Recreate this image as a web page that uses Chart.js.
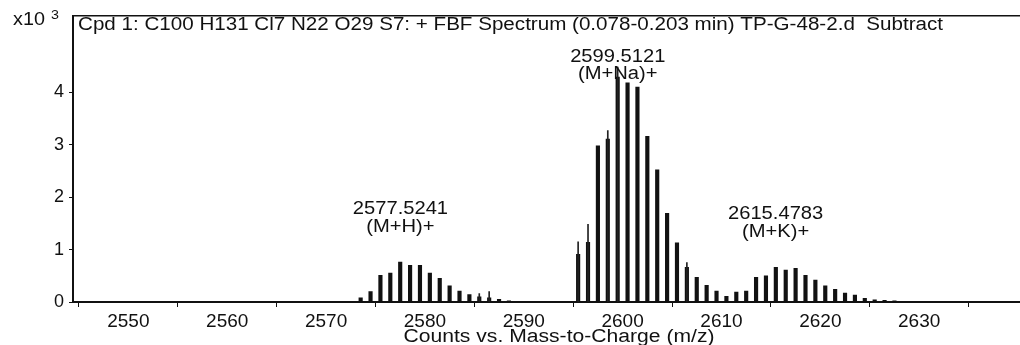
<!DOCTYPE html>
<html>
<head>
<meta charset="utf-8">
<script src="https://cdn.jsdelivr.net/npm/chart.js@4.4.1/dist/chart.umd.min.js"></script>
<style>
  html, body { margin: 0; padding: 0; background: #fff; }
  #wrap { width: 1020px; height: 345px; }
</style>
</head>
<body>
<div id="wrap"><canvas id="msChart" width="1020" height="345"></canvas></div>
<script>
// isotope peaks, m/z and counts (x10^3)
const mz = [
  2573.5, 2574.5, 2575.5, 2576.5, 2577.5, 2578.5, 2579.5, 2580.5, 2581.5, 2582.5,
  2583.5, 2584.5, 2585.5, 2586.5, 2587.5, 2588.5,
  2595.5, 2596.5, 2597.5, 2598.5, 2599.5, 2600.5, 2601.5, 2602.5, 2603.5, 2604.5,
  2605.5, 2606.5, 2607.5, 2608.5, 2609.5, 2610.5, 2611.5, 2612.5, 2613.5, 2614.5,
  2615.5, 2616.5, 2617.5, 2618.5, 2619.5, 2620.5, 2621.5, 2622.5, 2623.5, 2624.5,
  2625.5, 2626.5, 2627.5
];
const counts = [
  0.08, 0.20, 0.51, 0.55, 0.76, 0.70, 0.70, 0.55, 0.45, 0.31,
  0.21, 0.14, 0.10, 0.08, 0.05, 0.02,
  0.91, 1.14, 2.98, 3.11, 4.29, 4.18, 4.10, 3.16, 2.52, 1.69,
  1.13, 0.66, 0.47, 0.32, 0.21, 0.11, 0.19, 0.21, 0.47, 0.50,
  0.66, 0.61, 0.64, 0.51, 0.42, 0.31, 0.24, 0.17, 0.13, 0.07,
  0.04, 0.03, 0.02
];
// thin spikes that rise above some of the bars
const spikeMz = [2585.5, 2586.5, 2595.5, 2596.5, 2598.5, 2599.5, 2606.5];
const spikeCounts = [0.16, 0.20, 1.15, 1.48, 3.27, 4.48, 0.75];

const yTicks = [0, 1, 2, 3, 4];
const xTicks = [2550, 2560, 2570, 2580, 2590, 2600, 2610, 2620, 2630];

const labelMz = [2577.5241, 2599.5121, 2615.4783];
const labelIon = ['(M+H)+', '(M+Na)+', '(M+K)+'];

const titleText = 'Cpd 1: C100 H131 Cl7 N22 O29 S7: + FBF Spectrum (0.078-0.203 min) TP-G-48-2.d  Subtract';
const xTitle = 'Counts vs. Mass-to-Charge (m/z)';

const FONT = '"Liberation Sans", Arial, sans-serif';

// text is a little wider than tall in the scan, so stretch it sideways
function wideText(c, txt, x, y, sx) {
  c.save();
  c.translate(x, y);
  c.scale(sx, 1);
  c.fillText(txt, 0, 0);
  c.restore();
}

const textPlugin = {
  id: 'texts',
  afterDraw(chart) {
    const c = chart.ctx;
    const a = chart.chartArea;
    const x = chart.scales.x;
    const y = chart.scales.y;
    c.save();
    c.fillStyle = '#111';
    c.strokeStyle = '#111';

    // top frame line
    c.lineWidth = 1.5;
    c.beginPath();
    c.moveTo(a.left, a.top);
    c.lineTo(a.right, a.top);
    c.stroke();

    c.textBaseline = 'alphabetic';

    // title inside the frame
    c.font = '18px ' + FONT;
    c.textAlign = 'left';
    wideText(c, titleText, a.left + 5, a.top + 14, 865 / c.measureText(titleText).width);

    // exponent label
    wideText(c, 'x10', 13, 25, 1.1);
    c.font = '13px ' + FONT;
    wideText(c, '3', 51, 19, 1.1);

    // x axis title
    c.font = '18px ' + FONT;
    c.textAlign = 'center';
    wideText(c, xTitle, 559, 342, 311 / c.measureText(xTitle).width);

    // peak labels
    const lineY = [[1.67, 1.33], [4.58, 4.26], [1.58, 1.24]];
    c.font = '18px ' + FONT;
    labelMz.forEach((m, i) => {
      const px = x.getPixelForValue(m);
      wideText(c, m.toFixed(4), px, y.getPixelForValue(lineY[i][0]), 1.12);
      wideText(c, labelIon[i], px, y.getPixelForValue(lineY[i][1]), 1.12);
    });
    c.restore();
  }
};

const ctx = document.getElementById('msChart').getContext('2d');
new Chart(ctx, {
  type: 'bar',
  data: {
    datasets: [{
      label: 'spikes',
      data: spikeMz.map((m, i) => ({ x: m, y: spikeCounts[i] })),
      backgroundColor: '#222',
      barThickness: 1,
      grouped: false
    }, {
      label: 'counts',
      data: mz.map((m, i) => ({ x: m, y: counts[i] })),
      backgroundColor: '#111',
      barThickness: 3.5,
      grouped: false
    }]
  },
  options: {
    responsive: false,
    animation: false,
    layout: { padding: { top: 11, right: 0, bottom: 0, left: 0 } },
    plugins: {
      legend: { display: false },
      tooltip: { enabled: false }
    },
    scales: {
      x: {
        type: 'linear',
        min: 2544.4,
        max: 2640.2,
        offset: false,
        afterFit: s => { s.height = 43; s.paddingRight = 0; },
        afterBuildTicks: s => { s.ticks = xTicks.map(v => ({ value: v })); },
        grid: { drawOnChartArea: false, drawTicks: true, tickLength: 5, color: '#111' },
        border: { display: true, color: '#111', width: 2 },
        ticks: {
          maxRotation: 0,
          autoSkip: false,
          padding: 3,
          color: '#111',
          font: { family: FONT, size: 19 },
          callback: v => String(v)
        }
      },
      y: {
        min: 0,
        max: 5.46,
        afterFit: s => { s.width = 73; },
        afterBuildTicks: s => { s.ticks = yTicks.map(v => ({ value: v })); },
        grid: { drawOnChartArea: false, drawTicks: true, tickLength: 4, color: '#111' },
        border: { display: true, color: '#111', width: 2 },
        ticks: {
          padding: 5,
          color: '#111',
          font: { family: FONT, size: 18 }
        }
      }
    }
  },
  plugins: [textPlugin]
});
</script>
</body>
</html>
